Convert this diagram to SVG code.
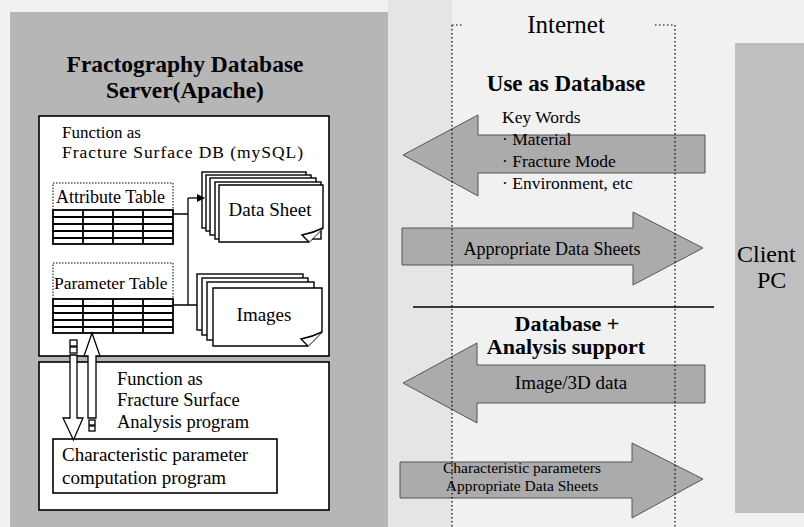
<svg xmlns="http://www.w3.org/2000/svg" width="804" height="527" viewBox="0 0 804 527">
  <style>
    text { font-family: "Liberation Serif", "Times New Roman", serif; fill: #000; }
    .b { font-weight: bold; }
    .box { fill: #fff; stroke: #000; stroke-width: 1.6; }
    .doc { fill: #fff; stroke: #000; stroke-width: 1.4; }
    .hdr { fill: #fff; stroke: #000; stroke-width: 1; stroke-dasharray: 1.5 1.5; }
    .grid { fill: #fff; stroke: #000; stroke-width: 1.8; }
    .gl { stroke: #000; stroke-width: 1.8; fill: none; }
    .big { fill: #ababab; stroke: #555; stroke-width: 1; }
    .hollow { fill: #fff; stroke: #000; stroke-width: 1.3; }
    .dot { stroke: #000; stroke-width: 1.2; stroke-dasharray: 1.5 2.5; fill: none; }
    .line { stroke: #000; stroke-width: 1.3; fill: none; }
  </style>
  <defs>
    <marker id="tip" markerWidth="8" markerHeight="8" refX="7" refY="4" orient="auto" markerUnits="userSpaceOnUse">
      <path d="M0,0 L8,4 L0,8 Z" fill="#000"/>
    </marker>
  </defs>

  <!-- page background -->
  <rect x="0" y="0" width="804" height="527" fill="#f1f1f1"/>
  <rect x="388" y="0" width="64" height="527" fill="#e5e5e5"/>

  <!-- server panel -->
  <g id="server">
    <rect x="10" y="12" width="378" height="515" fill="#b6b6b6"/>
    <text class="b" x="185" y="72" font-size="23.5" text-anchor="middle">Fractography Database</text>
    <text class="b" x="185" y="98" font-size="23.5" text-anchor="middle">Server(Apache)</text>
  </g>

  <!-- database function box -->
  <g id="db-function">
    <rect class="box" x="39" y="116" width="290" height="240"/>
    <text x="62" y="138" font-size="17">Function as</text>
    <text x="62" y="158" font-size="17.5" textLength="241" lengthAdjust="spacing">Fracture Surface DB (mySQL)</text>
  </g>

  <!-- attribute table -->
  <g id="attribute-table">
    <rect class="hdr" x="53" y="183" width="120" height="27"/>
    <text x="56" y="203" font-size="18">Attribute Table</text>
    <rect class="grid" x="53" y="210" width="120" height="34"/>
    <path class="gl" d="M53,217H173M53,224H173M53,231H173M53,238H173M83,210V244M113,210V244M143,210V244"/>
  </g>

  <!-- parameter table -->
  <g id="parameter-table">
    <rect class="hdr" x="53" y="263" width="120" height="36"/>
    <text x="54" y="289" font-size="17.5">Parameter Table</text>
    <rect class="grid" x="53" y="299" width="120" height="34"/>
    <path class="gl" d="M53,306H173M53,313H173M53,320H173M53,327H173M83,299V333M113,299V333M143,299V333"/>
  </g>

  <!-- data sheet stack -->
  <g id="data-sheet">
    <rect class="doc" x="202" y="172" width="104" height="56"/>
    <rect class="doc" x="206" y="175" width="105" height="56"/>
    <rect class="doc" x="210" y="178" width="106" height="57"/>
    <rect class="doc" x="215" y="182" width="106" height="57"/>
    <path class="doc" d="M219,185H323V228L309,242H219Z"/>
    <path class="doc" d="M309,242L302,235Q313,233 323,228"/>
    <text x="270" y="216" font-size="19" text-anchor="middle">Data Sheet</text>
  </g>

  <!-- image stack -->
  <g id="images">
    <rect class="doc" x="197" y="274" width="106" height="56"/>
    <rect class="doc" x="202" y="278" width="106" height="57"/>
    <rect class="doc" x="207" y="282" width="107" height="58"/>
    <path class="doc" d="M213,288H322V332L308,346H213Z"/>
    <path class="doc" d="M308,346L301,339Q312,337 322,332"/>
    <text x="264" y="321" font-size="19" text-anchor="middle">Images</text>
  </g>

  <!-- analysis program box -->
  <g id="analysis-function">
    <rect class="box" x="39" y="362" width="290" height="148"/>
    <text x="117" y="385" font-size="18.5">Function as</text>
    <text x="117" y="406" font-size="18.5">Fracture Surface</text>
    <text x="117" y="428" font-size="18.5">Analysis program</text>
  </g>

  <!-- characteristic parameter program -->
  <g id="char-param">
    <rect class="box" x="53" y="439" width="224" height="54"/>
    <text x="62" y="461" font-size="19">Characteristic parameter</text>
    <text x="62" y="484" font-size="19">computation program</text>
  </g>

  <!-- client panel -->
  <g id="client">
    <rect x="735" y="43" width="69" height="470" fill="#bfbfbf"/>
    <text x="737" y="262" font-size="24">Client</text>
    <text x="757" y="288" font-size="24">PC</text>
  </g>

  <!-- connectors -->
  <g id="connectors">
    <path class="line" d="M173,214H188M188,198V305M173,305H197"/>
    <path class="line" d="M188,198H204" marker-end="url(#tip)"/>
    <!-- hollow arrow down to the computation program -->
    <g id="to-program">
      <rect class="hollow" x="70" y="340" width="7" height="6"/>
      <rect class="hollow" x="70" y="347" width="7" height="6"/>
      <path class="hollow" d="M70,355H77V418H83L73.5,440L63,418H70Z"/>
    </g>
    <!-- hollow arrow up to the parameter table -->
    <g id="to-table">
      <path class="hollow" d="M92,333L100,356H96V418H88V356H84Z"/>
      <rect class="hollow" x="89" y="420" width="6" height="5"/>
      <rect class="hollow" x="89" y="426" width="6" height="5"/>
    </g>

    <g id="query">
      <path class="big" d="M403,155L478,115V135H705V173H478V196Z"/>
    </g>
    <g id="data-sheets-out">
      <path class="big" d="M402,228H633V212L703,248L633,285V265H402Z"/>
    </g>
    <g id="upload">
      <path class="big" d="M403,383L477,343V365H705V403H477V423Z"/>
    </g>
    <g id="results-out">
      <path class="big" d="M400,462H632V443L703,479L632,518V498H400Z"/>
    </g>
  </g>

  <!-- internet zone: boundary, labels -->
  <g id="internet">
    <path class="dot" d="M452,25V527M675,25V527M452,25H462M655,25H675"/>
    <path class="line" d="M413,307H714"/>
    <text x="566" y="33" font-size="25" text-anchor="middle">Internet</text>
    <text class="b" x="566" y="91" font-size="23" text-anchor="middle">Use as Database</text>
    <text x="502" y="123" font-size="17.5">Key Words</text>
    <text x="502" y="145" font-size="17.5">· Material</text>
    <text x="502" y="167" font-size="17.5">· Fracture Mode</text>
    <text x="502" y="189" font-size="17.5">· Environment, etc</text>
    <text x="552" y="255" font-size="18" text-anchor="middle">Appropriate Data Sheets</text>
    <text class="b" x="567" y="331" font-size="22" text-anchor="middle">Database +</text>
    <text class="b" x="566" y="354" font-size="22" text-anchor="middle">Analysis support</text>
    <text x="571" y="389" font-size="19" text-anchor="middle">Image/3D data</text>
    <text x="522" y="473" font-size="15.5" text-anchor="middle">Characteristic parameters</text>
    <text x="522" y="491" font-size="15.5" text-anchor="middle">Appropriate Data Sheets</text>
  </g>
</svg>
